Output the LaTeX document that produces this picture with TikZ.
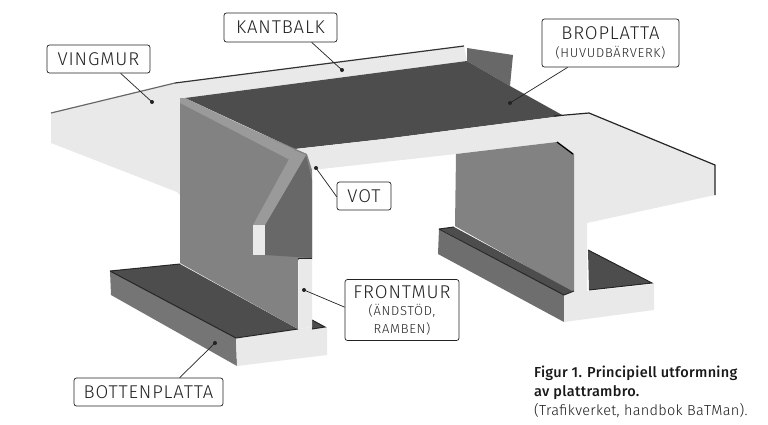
\documentclass[tikz,border=0pt]{standalone}
\usepackage{fontspec}
\setmainfont{Fira Sans Light}[BoldFont={Fira Sans Medium}]
\newfontfamily\labelfont{Fira Sans Light}[LetterSpace=4.7]
\newfontfamily\sublabelfont{Fira Sans Light}[LetterSpace=5.5]
\newfontfamily\capfont{Fira Sans Light}[BoldFont={Fira Sans Medium},LetterSpace=2]
\definecolor{lightc}{HTML}{E9E9E9}
\definecolor{darkc}{HTML}{4D4D4D}
\definecolor{wallc}{HTML}{828282}
\definecolor{votc}{HTML}{686868}
\definecolor{stripc}{HTML}{9A9A9A}
\definecolor{inkc}{HTML}{222222}
\tikzset{
  callout/.style={draw=inkc,line width=0.7pt,rounded corners=2.5pt,fill=white,text=inkc,align=center,inner sep=0pt,font=\labelfont\fontsize{18.5}{19}\selectfont},
  leader/.style={draw=inkc,line width=0.7pt},
  tipdot/.style={circle,fill=inkc,inner sep=0pt,minimum size=4pt}
}
\newcommand{\sublabel}[1]{{\sublabelfont\fontsize{13}{14}\selectfont #1}}
\begin{document}
\begin{tikzpicture}[x=1pt,y=-1pt]
\useasboundingbox (0,0) rectangle (768,424);
% left wing and edge beam
\fill[lightc] (51,113)--(175,83)--(464,46)--(467,61)--(185,98)--(180,98)--(180,195)--(177,192)--(51,143)--cycle;
\draw[votc,line width=1.2pt] (51,113)--(175,83);
\draw[black!80,line width=1.2pt] (175,83)--(464,46);
% back part
\fill[votc] (467,48)--(513,55)--(510,86)--(467,61)--cycle;
% deck
\fill[darkc] (185,98)--(467,61)--(510,86)--(564,116)--(554,117)--(384,139)--(295,149)--cycle;
% front band and right wing
\fill[lightc] (295,149)--(384,139)--(554,117)--(589,113)--(715,165)--(715,195)--(587,223)--(587,291)--(574,291)--(574,154)--(557,142)--(456,154)--(312,170)--cycle;
\draw[black!85,line width=1.2pt] (554,116)--(589,113)--(715,165)--(715,195);
% right wall
\fill[wallc] (456,154)--(557,142)--(574,154)--(574,293)--(455,226)--cycle;
\draw[black,line width=1.3pt] (557,142)--(573,154);
% right footing
\fill[wallc!85!black] (439,229)--(564,295)--(564,322)--(438,254)--cycle;
\fill[darkc] (440,229)--(454,227)--(574,292)--(564,295)--cycle;
\fill[lightc] (564,295)--(574,291)--(589,291)--(654,284)--(654,310)--(564,322)--cycle;
\fill[darkc] (588,250)--(652,283)--(589,290)--cycle;
\draw[black!85,line width=1pt] (439,229)--(454,227) (439,229)--(564,295)--(574,291) (588,250)--(652,283)--(589,290);
% left footing
\fill[wallc!90!black] (110,271)--(236,338)--(237,366)--(111,295)--cycle;
\fill[darkc] (110,271)--(180,264)--(298,329)--(236,338)--cycle;
\fill[lightc] (236,338)--(298,329)--(312,327)--(327,327)--(327,355)--(237,366)--cycle;
\fill[darkc] (312,320)--(325,327)--(312,329)--cycle;
\draw[black!85,line width=1pt] (110,271)--(180,264) (110,271)--(236,338)--(298,329) (312,320)--(325,327)--(312,329);
% left wall
\fill[wallc] (180,98)--(307,154)--(312,170)--(312,260)--(298,260)--(298,329)--(180,263)--cycle;
\fill[stripc] (180,98)--(185,98)--(295,150)--(290,160)--(180,103)--cycle;
\fill[lightc] (299,259)--(312,259)--(312,327)--(299,329)--cycle;
\fill[votc] (306,155)--(312,180)--(312,258)--(265,255)--(265,225)--cycle;
\fill[stripc] (294,150)--(306,155)--(265,225)--(253,225)--cycle;
\fill[lightc] (253,225)--(265,225)--(265,255)--(253,255)--cycle;
\draw[black!85,line width=1pt] (298,258)--(312,258);
% labels
\node[callout,minimum width=103pt,minimum height=28pt] (ving) at (98.5,59) {VINGMUR};
\node[callout,minimum width=113pt,minimum height=29pt] (kant) at (280.5,27.5) {KANTBALK};
\node[callout,minimum width=137pt,minimum height=48pt] (bro) at (610.5,43) {BROPLATTA\\[-1pt]\sublabel{(HUVUDBÄRVERK)}};
\node[callout,minimum width=54pt,minimum height=28pt] (vot) at (364,196) {VOT};
\node[callout,minimum width=114pt,minimum height=61pt] (front) at (402,310) {FRONTMUR\\[-2pt]\sublabel{(ÄNDSTÖD,}\\[-1pt]\sublabel{RAMBEN)}};
\node[callout,minimum width=149pt,minimum height=28pt] (botten) at (148.5,392) {BOTTENPLATTA};
\node[tipdot] (dving) at (152,102) {};
\node[tipdot] (dkant) at (342,70) {};
\node[tipdot] (dbro) at (510,103) {};
\node[tipdot] (dvot) at (316,168) {};
\node[tipdot] (dfront) at (304,290) {};
\node[tipdot] (dbotten) at (215,343) {};
\draw[leader] ([xshift=74pt]ving.south west) -- (dving.center);
\draw[leader] ([xshift=88pt]kant.south west) -- (dkant.center);
\draw[leader] ([xshift=26pt]bro.south west) -- (dbro.center);
\draw[leader] ([yshift=-15pt]vot.north west) -- (dvot.center);
\draw[leader] ([yshift=-28pt]front.north west) -- (dfront.center);
\draw[leader] ([xshift=106pt]botten.north west) -- (dbotten.center);
\node[anchor=north west,inner sep=0pt,align=left,text=black!90,font=\capfont\fontsize{14.5}{19}\selectfont] (cap) at (534,366) {\textbf{Figur 1. Principiell utformning}\\\textbf{av plattrambro.}\\(Trafikverket, handbok BaTMan).};
\end{tikzpicture}
\end{document}
